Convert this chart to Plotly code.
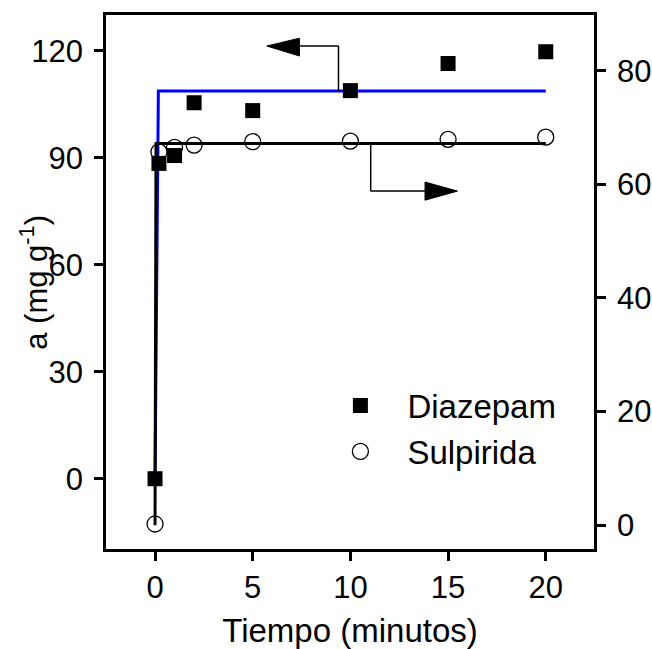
import plotly.graph_objects as go

# Sampling times (minutes)
t_diazepam = [0, 0.2, 1, 2, 5, 10, 15, 20]
t_sulpirida = [0, 0.2, 1, 2, 5, 10, 15, 20]

# Adsorbed amount, a (mg g-1)
a_diazepam = [0, 88.4, 90.6, 105.4, 103.2, 108.8, 116.4, 119.7]   # left axis
a_sulpirida = [0.2, 65.7, 66.5, 66.9, 67.5, 67.6, 67.9, 68.3]     # right axis

# Kinetic model curves (near-instant rise to the plateau)
t_fit_diazepam = [0, 0.17, 20]
a_fit_diazepam = [0, 108.7, 108.7]
t_fit_sulpirida = [0, 0.05, 20]
a_fit_sulpirida = [0, 67.2, 67.2]

x_ticks = [0, 5, 10, 15, 20]
y_ticks = [0, 30, 60, 90, 120]
y2_ticks = [0, 20, 40, 60, 80]

FONT = "Arial, Liberation Sans, sans-serif"

fig = go.Figure()

fig.add_trace(go.Scatter(
    x=t_fit_diazepam, y=a_fit_diazepam, mode="lines",
    line=dict(color="#0000ff", width=3), showlegend=False, yaxis="y"))
fig.add_trace(go.Scatter(
    x=t_diazepam, y=a_diazepam, mode="markers", name="Diazepam",
    marker=dict(symbol="square", size=15, color="black"), yaxis="y"))
fig.add_trace(go.Scatter(
    x=t_fit_sulpirida, y=a_fit_sulpirida, mode="lines",
    line=dict(color="black", width=3), showlegend=False, yaxis="y2"))
fig.add_trace(go.Scatter(
    x=t_sulpirida, y=a_sulpirida, mode="markers", name="Sulpirida",
    marker=dict(symbol="circle-open", size=16, color="black",
                line=dict(width=1.3, color="black")), yaxis="y2"))

# Arrows pointing each curve to its own axis
shapes = []
# left-pointing arrow (Diazepam -> left axis)
shapes.append(dict(type="line", xref="x", yref="y", x0=9.39, y0=108.7, x1=9.39, y1=121.3,
                   line=dict(color="black", width=1.5)))
shapes.append(dict(type="line", xref="x", yref="y", x0=9.39, y0=121.3, x1=7.3, y1=121.3,
                   line=dict(color="black", width=1.5)))
shapes.append(dict(type="path", xref="x", yref="y",
                   path="M 5.72,121.3 L 7.39,123.5 L 7.39,118.5 Z",
                   fillcolor="black", line=dict(color="black", width=1)))
# right-pointing arrow (Sulpirida -> right axis)
shapes.append(dict(type="line", xref="x", yref="y2", x0=11.04, y0=67.2, x1=11.04, y1=58.8,
                   line=dict(color="black", width=1.5)))
shapes.append(dict(type="line", xref="x", yref="y2", x0=11.04, y0=58.8, x1=13.9, y1=58.8,
                   line=dict(color="black", width=1.5)))
shapes.append(dict(type="path", xref="x", yref="y2",
                   path="M 15.48,58.8 L 13.82,60.4 L 13.82,57.2 Z",
                   fillcolor="black", line=dict(color="black", width=1)))

axis_common = dict(
    showline=True, linecolor="black", linewidth=2.5, ticks="outside",
    ticklen=9, tickwidth=2.5, tickcolor="black", showgrid=False, zeroline=False,
    tickfont=dict(family=FONT, size=31, color="black"), automargin=False,
)

fig.update_layout(
    width=652, height=649,
    margin=dict(l=106, r=58, t=15, b=100),
    paper_bgcolor="white", plot_bgcolor="white",
    font=dict(family=FONT, color="black"),
    shapes=shapes,
    xaxis=dict(range=[-2.51, 22.47], tickvals=x_ticks, mirror=True,
               title=dict(text="Tiempo (minutos)", font=dict(family=FONT, size=33), standoff=16),
               **axis_common),
    yaxis=dict(range=[-19.7, 130.0], tickvals=y_ticks, ticklabelstandoff=5,
               **axis_common),
    yaxis2=dict(range=[-4.2, 89.8], tickvals=y2_ticks, overlaying="y", side="right",
                ticklabelstandoff=5, **axis_common),
    legend=dict(x=0.425, y=0.321, xanchor="left", yanchor="top",
                font=dict(family=FONT, size=33, color="black"),
                bgcolor="rgba(0,0,0,0)", itemwidth=84, tracegroupgap=0),
    annotations=[dict(
        text="a (mg g<sup>-1</sup>)", textangle=-90, showarrow=False,
        xref="paper", yref="paper", x=-0.148, y=0.5, xanchor="center", yanchor="middle",
        font=dict(family=FONT, size=31, color="black"))],
)

fig.write_html("out.html")
